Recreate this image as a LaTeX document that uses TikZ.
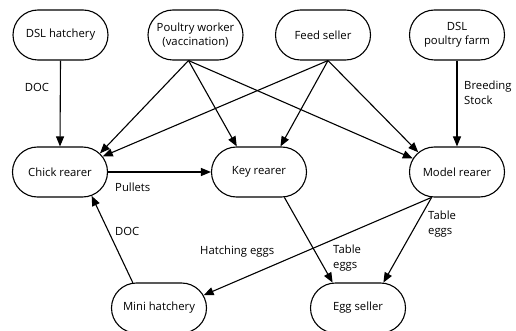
\documentclass[tikz,border=0pt]{standalone}
\usepackage{fontspec}
\setmainfont{Open Sans}
\usetikzlibrary{shapes.misc,arrows.meta}
\begin{document}
\begin{tikzpicture}[x=1pt,y=-1pt,
  actor/.style={rounded rectangle, draw, line width=1.1pt, minimum width=99pt, minimum height=50pt, align=center, font=\fontsize{11.3}{13.5}\selectfont, inner sep=2pt},
  arr/.style={line width=1.1pt, -{Triangle[length=10pt,width=8pt]}},
  lbl/.style={font=\fontsize{11.3}{15}\selectfont, align=left, inner sep=0pt}]
\useasboundingbox (0,0) rectangle (516,331);
\node[actor] (dh) at (60.5,35) {DSL hatchery};
\node[actor] (pw) at (195.5,35) {Poultry worker\\(vaccination)};
\node[actor] (fs) at (323,35) {Feed seller};
\node[actor] (dpf) at (457,35) {DSL\\poultry farm};
\node[actor] (cr) at (60,172) {Chick rearer};
\node[actor] (kr) at (259,172) {Key rearer};
\node[actor] (mr) at (457,172) {Model rearer};
\node[actor] (mh) at (159,308) {Mini hatchery};
\node[actor] (es) at (358,308) {Egg seller};
\coordinate (pws) at ([xshift=-7pt]pw.south);
\coordinate (fss) at ([xshift=5pt]fs.south);
\draw[arr] (dh.south) -- (cr.north);
\draw[arr] (pws) -- (cr.25);
\draw[arr] (pws) -- (kr.131);
\draw[arr] (pws) -- (mr.163);
\draw[arr] (fss) -- (cr.20);
\draw[arr] (fss) -- (kr.50);
\draw[arr] (fss) -- (mr.153);
\draw[arr] (dpf.south) -- (mr.north);
\draw[arr] (cr.east) -- (kr.west);
\draw[arr] (mh.136) -- (cr.-37);
\draw[arr] (mr.-135) -- (mh.16);
\draw[arr] (kr.-45) -- (es.135);
\draw[arr] (mr.-135) -- (es.45);
\node[lbl] (l1) at (37,87) {DOC};
\node[lbl, anchor=west] (l2) at (115,187) {Pullets};
\node[lbl, anchor=west] (l3) at (115,231) {DOC};
\node[lbl, anchor=west] (l4) at (200,252) {Hatching eggs};
\node[lbl, anchor=west] (l5) at (333,258.5) {Table\\eggs};
\node[lbl, anchor=west] (l6) at (428,224.5) {Table\\eggs};
\node[lbl, anchor=west] (l7) at (464,92.5) {Breeding\\Stock};
\end{tikzpicture}
\end{document}
